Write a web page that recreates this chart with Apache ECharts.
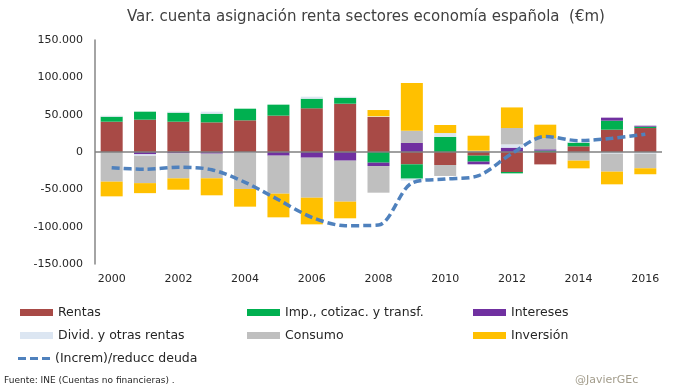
<!DOCTYPE html>
<html>
<head>
<meta charset="utf-8">
<script src="https://cdn.jsdelivr.net/npm/echarts@6/dist/echarts.min.js"></script>
<style>html,body{margin:0;padding:0;background:#fff}#c{width:680px;height:392px}</style>
</head>
<body>
<div id="c"></div>
<script>
const years = ['2000','2001','2002','2003','2004','2005','2006','2007','2008','2009','2010','2011','2012','2013','2014','2015','2016'];
const rentas    = [40600, 43300, 40600, 39700, 42400, 48700, 58500, 64700, 46900, -16500, -17400, -4900, -26800, -16600, 7600, 29900, 32100];
const impuestos = [6700, 10700, 12100, 11600, 15600, 14700, 12900, 8000, -14300, -19200, 20100, -8000, -1800, 1800, 4900, 12100, 1800];
const intereses = [0, -3100, -1800, -2200, 0, -4900, -7600, -11600, -4500, 12100, 0, -3600, 5800, 1800, 0, 4000, 1300];
const dividendos = [1300, -2000, 1300, 2700, -1300, 0, 2700, 1300, 900, -2700, 5300, 0, 4400, 0, 1300, -2200, -2200];
const consumo   = [-39700, -36600, -33500, -33000, -48200, -50900, -53600, -54900, -35700, 16400, -14700, 1800, 21900, 15100, -11600, -24100, -19600];
const inversion = [-19700, -13400, -15200, -22800, -23700, -31700, -35700, -22300, 8400, 63900, 10800, 20000, 27600, 17900, -10300, -17000, -8000];
const deuda     = [-21000, -23200, -20500, -23700, -40600, -64000, -87500, -98700, -97800, -41500, -36200, -31700, -2000, 20900, 15200, 18300, 23700];
const yTicks = [-150000, 150000, 50000];

const FONT = 'DejaVu Sans';
const names = ['Rentas', 'Imp., cotizac. y transf.', 'Intereses', 'Divid. y otras rentas', 'Consumo', 'Inversión', '(Increm)/reducc deuda'];
const colors = ['#a84a46', '#00b050', '#7030a0', '#dce6f2', '#bfbfbf', '#ffc000', '#4f81bd'];
const barData = [rentas, impuestos, intereses, dividendos, consumo, inversion];

function fmt(v){
  const s = Math.abs(v).toString().replace(/\B(?=(\d{3})+(?!\d))/g, '.');
  return (v < 0 ? '-' : '') + s;
}

const series = barData.map((d, i) => {
  const s = {
    name: names[i], type: 'bar', stack: 'total', data: d, barWidth: 22,
    itemStyle: { color: colors[i] }
  };
  if (i === 0) {
    s.markLine = {
      silent: true, symbol: ['none', 'none'], animation: false,
      label: { show: false },
      lineStyle: { color: '#808080', width: 1.5, type: 'solid' },
      data: [{ yAxis: 0 }]
    };
  }
  return s;
});
series.push({
  name: names[6], type: 'line', data: deuda, symbol: 'none', smooth: 0.3, z: 5,
  lineStyle: { color: colors[6], width: 3.5, type: [8, 4] },
  itemStyle: { color: colors[6] }
});

const dashIcon = 'path://M0,0 L8,0 L8,3 L0,3 Z M12,0 L20,0 L20,3 L12,3 Z M24,0 L32,0 L32,3 L24,3 Z';
const legPos = [[20,306],[247,306],[473,306],[20,329],[247,329],[473,329],[18,352]];
const legends = names.map((n, i) => ({
  data: [n], left: legPos[i][0], top: legPos[i][1],
  itemWidth: i < 6 ? 33 : 32, itemHeight: i < 6 ? 7 : 3, itemGap: 0,
  icon: i < 6 ? 'rect' : dashIcon,
  textStyle: { fontFamily: FONT, fontSize: 12.5, color: '#262626' },
  padding: 0, selectedMode: false
}));

const chart = echarts.init(document.getElementById('c'), null, { renderer: 'canvas' });
chart.setOption({
  animation: false,
  backgroundColor: '#fff',
  title: {
    text: 'Var. cuenta asignación renta sectores economía española  (€m)',
    left: 122, top: 5,
    textStyle: { fontFamily: FONT, fontSize: 15, fontWeight: 'normal', color: '#404040' }
  },
  legend: legends,
  grid: { left: 95, right: 18, top: 40, bottom: 128, containLabel: false },
  xAxis: {
    type: 'category', data: years,
    axisLine: { show: false }, axisTick: { show: false },
    axisLabel: { interval: 1, margin: 10, fontFamily: FONT, fontSize: 11, color: '#262626' }
  },
  yAxis: {
    type: 'value', min: yTicks[0], max: yTicks[1], interval: yTicks[2],
    splitLine: { show: false },
    axisLine: { show: true, lineStyle: { color: '#868686', width: 1.5 } },
    axisTick: { show: false },
    axisLabel: { margin: 12, fontFamily: FONT, fontSize: 11, color: '#262626', formatter: fmt }
  },
  graphic: [
    { type: 'text', left: 4, top: 376, style: { text: 'Fuente: INE (Cuentas no financieras) .', font: '9px ' + FONT, fill: '#262626' } },
    { type: 'text', left: 575, top: 375, style: { text: '@JavierGEc', font: '11px ' + FONT, fill: '#a39d8c' } }
  ],
  series: series
});
</script>
</body>
</html>
